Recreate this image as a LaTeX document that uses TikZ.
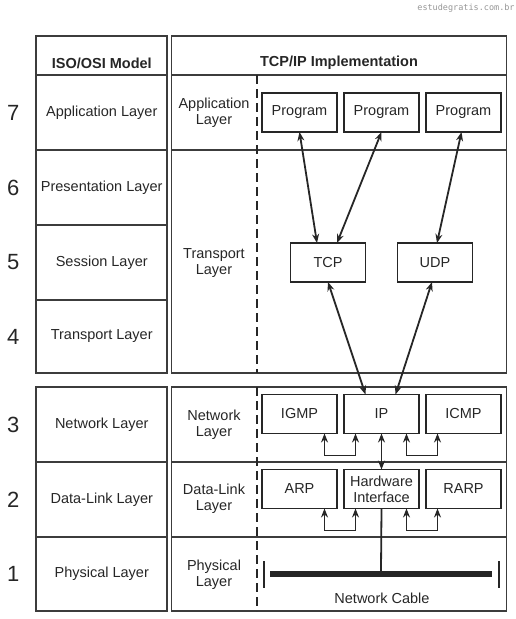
\documentclass[tikz,border=0pt]{standalone}
\usepackage{fontspec}
\setmainfont{Liberation Sans}
\newfontfamily\markfont{DejaVu Sans Mono}
\usetikzlibrary{positioning,arrows.meta}
\definecolor{ink}{RGB}{38,38,38}
\definecolor{rulegray}{RGB}{60,60,60}
\definecolor{wmgray}{RGB}{150,150,150}

\begin{document}
\begin{tikzpicture}[x=1pt, y=-1pt, ink, text=ink,
	every node/.style={font=\fontsize{14.5}{16}\selectfont, align=center, outer sep=0pt},
	cell/.style={draw=rulegray, line width=1.7pt, minimum width=131pt, inner sep=0pt},
	tcpcell/.style={draw=rulegray, line width=1.7pt, minimum width=335pt, inner sep=0pt},
	proto/.style={draw=ink, line width=1.9pt, minimum width=75pt, minimum height=39pt, inner sep=0pt},
	num/.style={font=\fontsize{22}{24}\selectfont, inner sep=0pt},
	head/.style={font=\bfseries\fontsize{14.5}{16}\selectfont},
	link/.style={line width=1.8pt, {Stealth[length=9pt,width=7pt]}-{Stealth[length=9pt,width=7pt]}},
	divide/.style={line width=2pt, dash pattern=on 9pt off 5pt}]
	\useasboundingbox (0,0) rectangle (515,619);
	
	\node[font=\markfont\fontsize{8.5}{10}\selectfont, text=wmgray] (site) at (466,8) {estudegratis.com.br};
	
	% ISO/OSI column
	\node[cell, minimum height=39pt] (osiHd) at (101.75,55.5) {};
	\node[cell, minimum height=75pt, below=0pt of osiHd] (osi7) {Application Layer};
	\node[cell, minimum height=75pt, below=0pt of osi7] (osi6) {Presentation Layer};
	\node[cell, minimum height=75pt, below=0pt of osi6] (osi5) {Session Layer};
	\node[cell, minimum height=73pt, below=0pt of osi5] (osi4) {Transport Layer};
	\node[cell, minimum height=75pt] (osi3) at (101.75,424.5) {Network Layer};
	\node[cell, minimum height=75pt, below=0pt of osi3] (osi2) {Data-Link Layer};
	\node[cell, minimum height=74pt, below=0pt of osi2] (osi1) {Physical Layer};
	\node[head] (osiTitle) at (101.75,63) {ISO/OSI Model};
	
	\node[num, left=17pt of osi7] (n7) {7};
	\node[num, left=17pt of osi6] (n6) {6};
	\node[num, left=17pt of osi5] (n5) {5};
	\node[num, left=17pt of osi4] (n4) {4};
	\node[num, left=17pt of osi3] (n3) {3};
	\node[num, left=17pt of osi2] (n2) {2};
	\node[num, left=17pt of osi1] (n1) {1};
	
	% TCP/IP column
	\node[tcpcell, minimum height=39pt] (tcpHd) at (339,55.5) {};
	\node[tcpcell, minimum height=75pt, below=0pt of tcpHd] (tcp7) {};
	\node[tcpcell, minimum height=223pt, below=0pt of tcp7] (tcp4) {};
	\node[tcpcell, minimum height=75pt] (tcp3) at (339,424.5) {};
	\node[tcpcell, minimum height=75pt, below=0pt of tcp3] (tcp2) {};
	\node[tcpcell, minimum height=74pt, below=0pt of tcp2] (tcp1) {};
	\node[head] (tcpTitle) at (339,63) {TCP/IP Implementation};
	
	\draw[divide] (257,75) -- (257,373);
	\draw[divide] (257,387) -- (257,611);
	
	\node (appL) at (214,113) {Application\\Layer};
	\node (trL) at (214,263) {Transport\\Layer};
	\node (netL) at (214,425) {Network\\Layer};
	\node (dlL) at (214,499) {Data-Link\\Layer};
	\node (phL) at (214,575) {Physical\\Layer};
	
	\node[proto] (prog1) at (299.5,112.5) {Program};
	\node[proto, right=7pt of prog1] (prog2) {Program};
	\node[proto, right=7pt of prog2] (prog3) {Program};
	\node[proto] (tcp) at (328,262.5) {TCP};
	\node[proto, right=32pt of tcp] (udp) {UDP};
	\node[proto] (igmp) at (299.5,414) {IGMP};
	\node[proto, right=7pt of igmp] (ip) {IP};
	\node[proto, right=7pt of ip] (icmp) {ICMP};
	\node[proto] (arp) at (299.5,489) {ARP};
	\node[proto, right=7pt of arp] (hw) {Hardware\\Interface};
	\node[proto, right=7pt of hw] (rarp) {RARP};
	
	\draw[link] (prog1.south) -- ([xshift=-11pt]tcp.north);
	\draw[link] (prog2.south) -- ([xshift=9pt]tcp.north);
	\draw[link] ([xshift=-2pt]prog3.south) -- ([xshift=2pt]udp.north);
	\draw[link] (tcp.south) -- ([xshift=-16pt]ip.north);
	\draw[link] ([xshift=-3pt]udp.south) -- ([xshift=14pt]ip.north);
	\draw[link] (ip.south) -- (hw.north);
	\draw[link] ([xshift=25pt]igmp.south) -- ++(0,22) -| ([xshift=-26pt]ip.south);
	\draw[link] ([xshift=25pt]ip.south) -- ++(0,22) -| ([xshift=-26pt]icmp.south);
	\draw[link] ([xshift=25pt]arp.south) -- ++(0,22) -| ([xshift=-26pt]hw.south);
	\draw[link] ([xshift=25pt]hw.south) -- ++(0,22) -| ([xshift=-26pt]rarp.south);
	
	% cable
	\node[fill=ink, minimum width=222pt, minimum height=6pt, inner sep=0pt] (cable) at (381,574) {};
	\draw[line width=1.8pt] (hw.south) -- (cable.north);
	\draw[line width=1.8pt] (264,561) -- (264,588);
	\draw[line width=1.8pt] (499,561) -- (499,588);
	\node (cableLbl) at (382,598) {Network Cable};
\end{tikzpicture}
\end{document}
